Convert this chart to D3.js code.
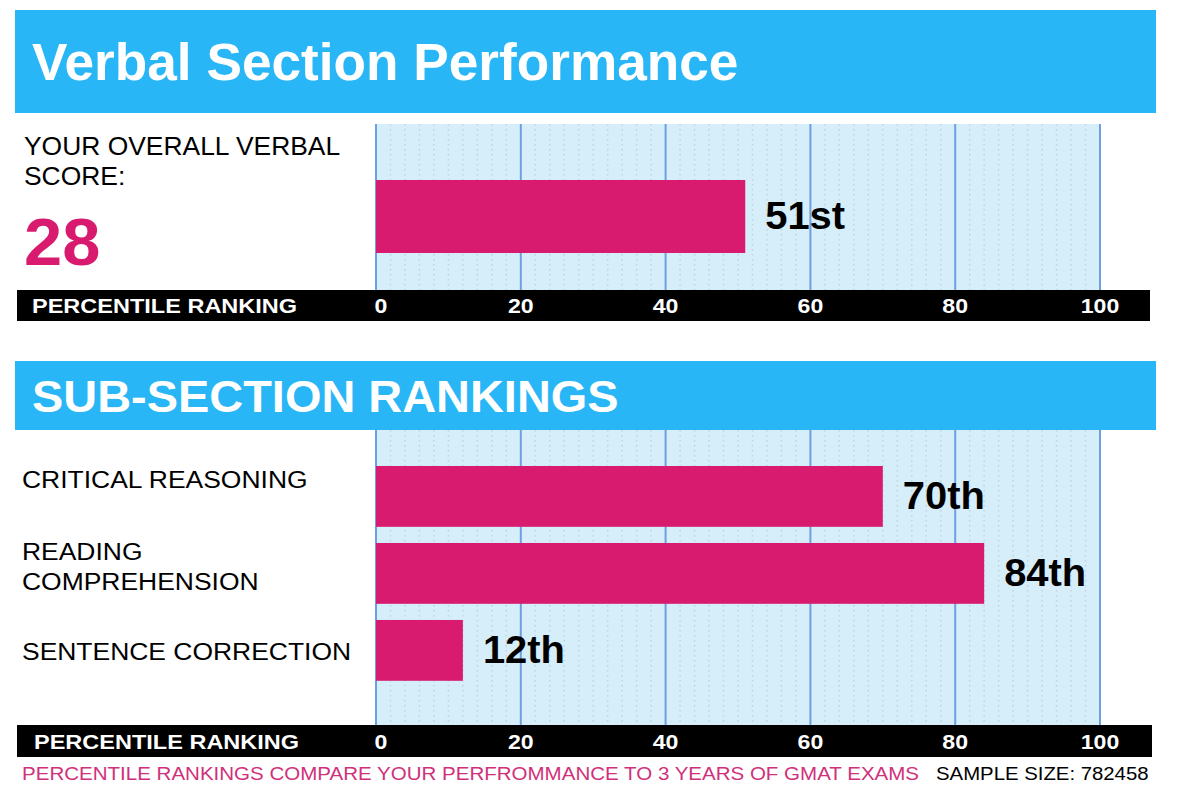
<!DOCTYPE html>
<html><head><meta charset="utf-8">
<script src="https://cdn.jsdelivr.net/npm/d3@7"></script>
<style>body{margin:0;background:#fff}svg{display:block;font-family:"Liberation Sans",Arial,sans-serif}</style>
</head><body>
<script>
const overallScore = "28";
const overallPercentile = [51];
const overallLabels = ["51st"];
const subCategories = [["CRITICAL REASONING"], ["READING", "COMPREHENSION"], ["SENTENCE CORRECTION"]];
const subValues = [70, 84, 12];
const subLabels = ["70th", "84th", "12th"];
const tickValues = [0, 20, 40, 60, 80, 100];

const W = 1181, H = 785;
const BLUE = "#29b6f6", MAG = "#d81b6e", BG = "#d5eefa", GRID = "#6e9fe0";
const svg = d3.select("body").append("svg").attr("width", W).attr("height", H);

const x = d3.scaleLinear().domain([0, 100]).range([376, 1100]);

// text with a slight horizontal stretch, as in the reference rendering
function txt(parent, tx, ty, sx, str) {
  return parent.append("text").attr("transform", `translate(${tx},${ty}) scale(${sx},1)`).text(str);
}

function plotBg(y0, y1) {
  svg.append("rect").attr("x", x(0)).attr("y", y0).attr("width", x(100) - x(0)).attr("height", y1 - y0).attr("fill", BG);
  const minor = d3.range(2, 100, 2).filter(v => v % 20 !== 0);
  svg.append("g").selectAll("line").data(minor).join("line")
    .attr("x1", d => x(d)).attr("x2", d => x(d)).attr("y1", y0).attr("y2", y1)
    .attr("stroke", "#c4d2dc").attr("stroke-width", 1.5).attr("stroke-dasharray", "1.5,3.5");
  svg.append("g").selectAll("line").data(tickValues).join("line")
    .attr("x1", d => x(d)).attr("x2", d => x(d)).attr("y1", y0).attr("y2", y1)
    .attr("stroke", GRID).attr("stroke-width", 2);
}
function axisBar(y0, h, x0, x1, lx) {
  svg.append("rect").attr("x", x0).attr("y", y0).attr("width", x1 - x0).attr("height", h).attr("fill", "#000");
  txt(svg, lx, y0 + h / 2 + 7.5, 1.12, "PERCENTILE RANKING").attr("fill", "#fff")
    .attr("font-weight", "bold").attr("font-size", 21);
  const g = svg.append("g").attr("fill", "#fff").attr("font-weight", "bold").attr("font-size", 21).attr("text-anchor", "middle");
  tickValues.forEach(d => txt(g, x(d) + (d === 0 ? 5 : 0), y0 + h / 2 + 7.5, 1.1, d));
}
function header(y0, h, text, size, by) {
  svg.append("rect").attr("x", 15).attr("y", y0).attr("width", 1141).attr("height", h).attr("fill", BLUE);
  txt(svg, 32, by, 1.043, text).attr("fill", "#fff").attr("font-weight", "bold").attr("font-size", size);
}

// Section 1
header(10, 103, "Verbal Section Performance", 51, 80);
plotBg(124, 290);
svg.append("g").selectAll("rect").data(overallPercentile).join("rect")
  .attr("x", x(0)).attr("y", 180).attr("width", d => x(d) - x(0)).attr("height", 73).attr("fill", MAG);
overallPercentile.forEach((d, i) =>
  txt(svg, x(d) + 20, 229, 1.05, overallLabels[i]).attr("font-weight", "bold").attr("font-size", 38));
txt(svg, 24, 155, 1.057, "YOUR OVERALL VERBAL").attr("font-size", 25);
txt(svg, 24, 185, 1.057, "SCORE:").attr("font-size", 25);
txt(svg, 24, 265, 1.04, overallScore).attr("font-size", 66).attr("font-weight", "bold").attr("fill", MAG);
axisBar(290, 31, 17, 1150, 32);

// Section 2
header(361, 69, "SUB-SECTION RANKINGS", 45, 412);
plotBg(430, 725);
const y = d3.scaleBand().domain(d3.range(subValues.length)).range([458.3, 688.5]).paddingInner(0.21).paddingOuter(0.1);
svg.append("g").selectAll("rect").data(subValues).join("rect")
  .attr("x", x(0)).attr("y", (d, i) => y(i)).attr("width", d => x(d) - x(0)).attr("height", y.bandwidth())
  .attr("fill", MAG);
subValues.forEach((d, i) =>
  txt(svg, x(d) + 20, y(i) + y.bandwidth() / 2 + 13, 1.05, subLabels[i]).attr("font-weight", "bold").attr("font-size", 38));
const labelDy = [22, 17, 40];
subCategories.forEach((lines, i) => {
  lines.forEach((l, j) => txt(svg, 22, y(i) + labelDy[i] + j * 30, 1.08, l).attr("font-size", 24.5));
});
axisBar(725, 32, 17, 1152, 34);

// Footer
txt(svg, 22, 780, 1.11, "PERCENTILE RANKINGS COMPARE YOUR PERFROMMANCE TO 3 YEARS OF GMAT EXAMS")
  .attr("font-size", 18.5).attr("fill", "#d0307a");
txt(svg, 936, 780, 1.1, "SAMPLE SIZE: 782458").attr("font-size", 18.5).attr("fill", "#000");
</script>
</body></html>
